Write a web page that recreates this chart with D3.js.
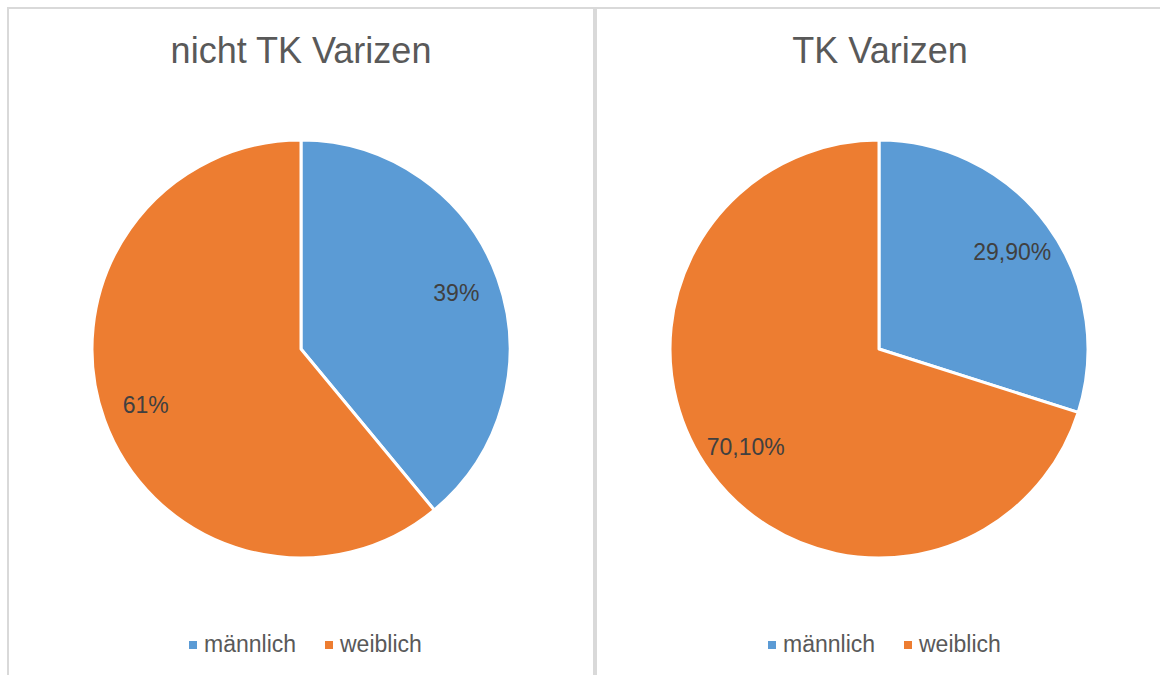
<!DOCTYPE html>
<html>
<head>
<meta charset="utf-8">
<script src="https://cdn.jsdelivr.net/npm/d3@7"></script>
<style>
  body { margin: 0; background: #fff; }
  text { font-family: "Liberation Sans", Arial, sans-serif; }
</style>
</head>
<body>
<div id="chart"></div>
<script>
var categories = ["männlich", "weiblich"];
var colors = ["#5B9BD5", "#ED7D31"];
var titles = ["nicht TK Varizen", "TK Varizen"];
var valuesLeft = [39, 61];
var valuesRight = [29.9, 70.1];
var labelsLeft = ["39%", "61%"];
var labelsRight = ["29,90%", "70,10%"];

var width = 1160, height = 675;
var radius = 209;

var svg = d3.select('#chart').append('svg')
            .attr('width', width)
            .attr('height', height);

// panel frames
svg.append('rect').attr('x', 8).attr('y', 8).attr('width', 586).attr('height', 700)
   .attr('fill', 'none').attr('stroke', '#d9d9d9').attr('stroke-width', 2);
svg.append('rect').attr('x', 596).attr('y', 8).attr('width', 600).attr('height', 700)
   .attr('fill', 'none').attr('stroke', '#d9d9d9').attr('stroke-width', 2);

var pie = d3.pie().sort(null).value(function(d){ return d; });
var arc = d3.arc().innerRadius(0).outerRadius(radius);
var labelArc = d3.arc().innerRadius(radius * 0.79).outerRadius(radius * 0.79);

var panels = [
  { cx: 301, title: titles[0], values: valuesLeft, labels: labelsLeft, legendX: 189 },
  { cx: 880, title: titles[1], values: valuesRight, labels: labelsRight, legendX: 768 }
];

panels.forEach(function(p) {
  var g = svg.append('g').attr('transform', 'translate(' + p.cx + ',0)');

  g.append('text')
   .attr('x', 0).attr('y', 63)
   .attr('text-anchor', 'middle')
   .attr('fill', '#595959')
   .style('font-size', '36px')
   .text(p.title);

  var pg = g.append('g').attr('transform', 'translate(' + (p.cx === 301 ? 0 : -1) + ',349)');
  var arcs = pie(p.values);
  pg.selectAll('path').data(arcs).enter().append('path')
    .attr('d', arc)
    .attr('fill', function(d, i){ return colors[i]; })
    .attr('stroke', '#fff')
    .attr('stroke-width', 3)
    .attr('stroke-linejoin', 'round');

  pg.selectAll('text.lbl').data(arcs).enter().append('text')
    .attr('class', 'lbl')
    .attr('transform', function(d){ return 'translate(' + labelArc.centroid(d) + ')'; })
    .attr('dy', '0.35em')
    .attr('text-anchor', 'middle')
    .attr('fill', '#404040')
    .style('font-size', '23px')
    .text(function(d, i){ return p.labels[i]; });

  // legend
  var lg = svg.append('g').attr('transform', 'translate(' + p.legendX + ',652)');
  var offs = [0, 136];
  categories.forEach(function(c, i) {
    lg.append('rect')
      .attr('x', offs[i]).attr('y', -11)
      .attr('width', 8).attr('height', 8)
      .attr('fill', colors[i]);
    lg.append('text')
      .attr('x', offs[i] + 15).attr('y', 0)
      .attr('fill', '#595959')
      .style('font-size', '23px')
      .text(c);
  });
});
</script>
</body>
</html>
